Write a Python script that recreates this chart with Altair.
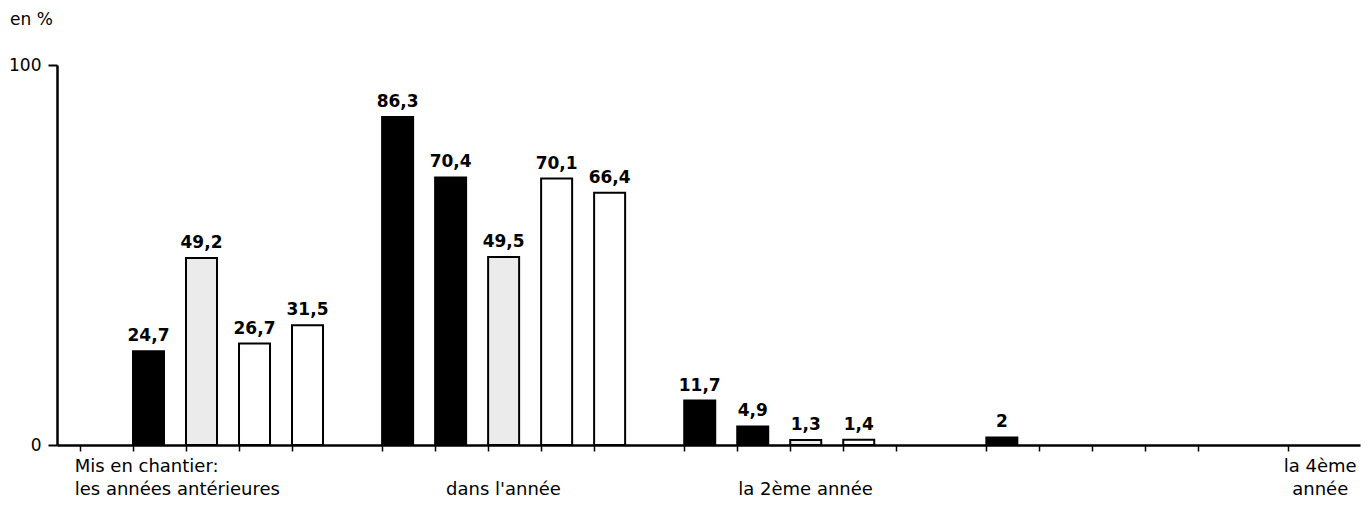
import altair as alt
import pandas as pd

# ---- data ----
groups = ["les années antérieures", "dans l'année", "la 2ème année", "la 3ème année", "la 4ème année"]
series = ["s1", "s2", "s3", "s4", "s5"]
s1 = [None, 86.3, 11.7, 2.0, None]
s2 = [24.7, 70.4, 4.9, None, None]
s3 = [49.2, 49.5, 1.3, None, None]
s4 = [26.7, 70.1, 1.4, None, None]
s5 = [31.5, 66.4, None, None, None]
label_line1 = ["Mis en chantier:", "", "", "", "la 4ème"]
label_line2 = ["les années antérieures", "dans l'année", "la 2ème année", "", "année"]
y_ticks = [0, 100]

# ---- style / layout ----
fills = ["#000000", "#000000", "#ebebeb", "#ffffff", "#ffffff"]
tick_slots = [5, 5, 5, 5, 1]
GROUP_STEP = 5.7
BAR_W = 0.585
label_offset = [-0.1, 2.29, 2.29, 2.29, 0.6]
FONT = "DejaVu Sans"

rows = []
for si, vals in enumerate([s1, s2, s3, s4, s5]):
    for gi, v in enumerate(vals):
        if v is None:
            continue
        x0 = gi * GROUP_STEP + si
        rows.append(dict(series=series[si], group=groups[gi], v=v,
                         x0=x0, x1=x0 + BAR_W, xm=x0 + BAR_W / 2))
bars_df = pd.DataFrame(rows)

tick_vals = []
for gi, n in enumerate(tick_slots):
    for s in range(n):
        x0 = gi * GROUP_STEP + s
        tick_vals += [round(x0, 4), round(x0 + BAR_W, 4)]

lab_df = pd.DataFrame(dict(
    l1=label_line1, l2=label_line2,
    x=[gi * GROUP_STEP + label_offset[gi] for gi in range(len(groups))],
    left=[gi == 0 for gi in range(len(groups))],
))

xscale = alt.Scale(domain=[-0.434, 24.15], nice=False, zero=False)
yscale = alt.Scale(domain=[0, 100], nice=False)

base = alt.Chart(bars_df)

bars = base.mark_rect(stroke="black", strokeWidth=2).encode(
    x=alt.X("x0:Q", scale=xscale,
            axis=alt.Axis(values=tick_vals, labels=False, title=None, grid=False,
                          domainColor="black", domainWidth=2.5, tickColor="black",
                          tickWidth=1.5, tickSize=6)),
    x2="x1:Q",
    y=alt.Y("v:Q", scale=yscale,
            axis=alt.Axis(values=y_ticks, title=None, grid=False, domainColor="black",
                          domainWidth=2.5, tickColor="black", tickWidth=2, tickSize=9,
                          labelFont=FONT, labelFontSize=17, labelColor="black",
                          labelPadding=7)),
    y2=alt.datum(0),
    fill=alt.Fill("series:N", scale=alt.Scale(domain=series, range=fills), legend=None),
)

vals = base.transform_calculate(
    lab="replace(toString(datum.v), '.', ',')"
).mark_text(font=FONT, fontWeight="bold", fontSize=17, baseline="bottom", dy=-6,
            color="black").encode(
    x=alt.X("xm:Q", scale=xscale), y=alt.Y("v:Q", scale=yscale), text="lab:N")

lab_left1 = alt.Chart(lab_df).transform_filter("datum.left").mark_text(
    font=FONT, fontSize=18, align="left", baseline="middle", color="black").encode(
    x=alt.X("x:Q", scale=xscale), y=alt.value(402), text="l1:N")
lab_left2 = alt.Chart(lab_df).transform_filter("datum.left").mark_text(
    font=FONT, fontSize=18, align="left", baseline="middle", color="black").encode(
    x=alt.X("x:Q", scale=xscale), y=alt.value(425), text="l2:N")
lab_c1 = alt.Chart(lab_df).transform_filter("!datum.left").mark_text(
    font=FONT, fontSize=18, align="center", baseline="middle", color="black").encode(
    x=alt.X("x:Q", scale=xscale), y=alt.value(402), text="l1:N")
lab_c2 = alt.Chart(lab_df).transform_filter("!datum.left").mark_text(
    font=FONT, fontSize=18, align="center", baseline="middle", color="black").encode(
    x=alt.X("x:Q", scale=xscale), y=alt.value(425), text="l2:N")

unit = alt.Chart(pd.DataFrame({"t": ["en %"]})).mark_text(
    font=FONT, fontSize=17, align="left", baseline="middle", color="black").encode(
    x=alt.value(-47), y=alt.value(-45), text="t:N")

chart = alt.layer(bars, vals, lab_left1, lab_left2, lab_c1, lab_c2, unit).properties(
    width=1303, height=380,
    autosize=alt.AutoSizeParams(type="none"),
    padding={"left": 49, "top": 57, "right": 2, "bottom": 55},
    background="white",
).configure_view(stroke=None)

chart.save("out.html", embed_options={"renderer": "svg", "actions": False})
